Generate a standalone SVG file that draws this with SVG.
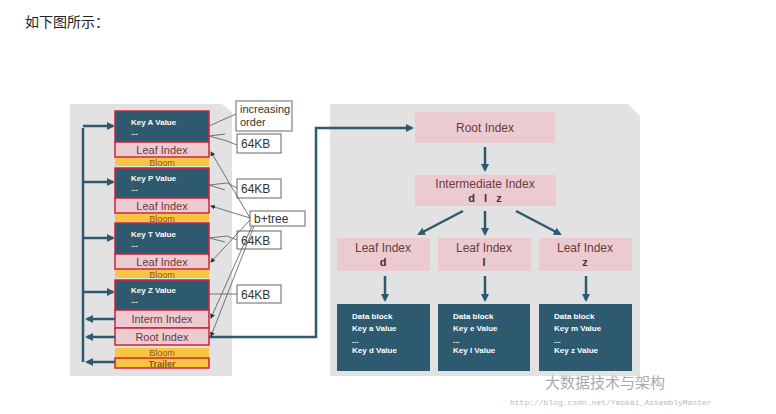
<svg xmlns="http://www.w3.org/2000/svg" width="776" height="414" viewBox="0 0 776 414">
<style>
.key{fill:#2e5a70;stroke:#d0223a;stroke-width:1.5}
.idx{fill:#eccbd0;stroke:#d0223a;stroke-width:1.5}
.bloom{fill:#f7c542}
.pk{fill:#eccbd0}
.db{fill:#2e5a70}
.t{font-family:"Liberation Sans",Arial,sans-serif}
.wk{font-size:8px;font-weight:bold;fill:#fff}
.it{font-size:11px;fill:#6b3a40}
.bt{font-size:9px;fill:#8a5a20}
.co{fill:#fff;stroke:#666;stroke-width:1}
.ct{font-size:12px;fill:#333}
.ln{stroke:#2e5a70;stroke-width:2.5;fill:none}
.th{stroke:#555;stroke-width:0.8;fill:none}
</style>
<defs>
<marker id="ah" markerWidth="8" markerHeight="8" refX="6" refY="4" orient="auto" markerUnits="userSpaceOnUse"><path d="M0,0 L8,4 L0,8 z" fill="#2e5a70"/></marker>
<marker id="sa" markerWidth="5" markerHeight="5" refX="4" refY="2.5" orient="auto" markerUnits="userSpaceOnUse"><path d="M0,0 L5,2.5 L0,5 z" fill="#333"/></marker>
</defs>
<rect width="776" height="414" fill="#fff"/>
<text x="25" y="27" font-family="Noto Sans CJK SC,sans-serif" font-size="14" fill="#222">如下图所示：</text>
<path d="M70,104 L222,104 L232,112 L232,376 L70,376 Z" fill="#e2e2e2"/>
<path d="M330,104 L628,104 L640,116 L640,376 L330,376 Z" fill="#e2e2e2"/>
<g id="left-blocks">
<g id="keyA"><rect class="key" x="115" y="111" width="94" height="31"/><text class="t wk" x="131" y="125">Key A Value</text><text class="t wk" x="131" y="135">...</text></g>
<g id="leaf1"><rect class="idx" x="115" y="142" width="94" height="15"/><text class="t it" x="162" y="153.5" text-anchor="middle">Leaf Index</text></g>
<g id="bloom1"><rect class="bloom" x="115" y="158" width="94" height="8"/><text class="t bt" x="162" y="165.5" text-anchor="middle">Bloom</text></g>
<g id="keyP"><rect class="key" x="115" y="168" width="94" height="30"/><text class="t wk" x="131" y="181">Key P Value</text><text class="t wk" x="131" y="191">...</text></g>
<g id="leaf2"><rect class="idx" x="115" y="198" width="94" height="15"/><text class="t it" x="162" y="209.5" text-anchor="middle">Leaf Index</text></g>
<g id="bloom2"><rect class="bloom" x="115" y="214" width="94" height="8"/><text class="t bt" x="162" y="221.5" text-anchor="middle">Bloom</text></g>
<g id="keyT"><rect class="key" x="115" y="223" width="94" height="31"/><text class="t wk" x="131" y="237">Key T Value</text><text class="t wk" x="131" y="247">...</text></g>
<g id="leaf3"><rect class="idx" x="115" y="254" width="94" height="15"/><text class="t it" x="162" y="265.5" text-anchor="middle">Leaf Index</text></g>
<g id="bloom3"><rect class="bloom" x="115" y="270" width="94" height="8"/><text class="t bt" x="162" y="277.5" text-anchor="middle">Bloom</text></g>
<g id="keyZ"><rect class="key" x="115" y="280" width="94" height="30"/><text class="t wk" x="131" y="293">Key Z Value</text><text class="t wk" x="131" y="303">...</text></g>
<g id="interm"><rect class="idx" x="115" y="310" width="94" height="18"/><text class="t it" x="162" y="323" text-anchor="middle">Interm Index</text></g>
<g id="root"><rect class="idx" x="115" y="328" width="94" height="17"/><text class="t it" x="162" y="341" text-anchor="middle">Root Index</text></g>
<g id="bloom4"><rect class="bloom" x="115" y="348" width="94" height="9"/><text class="t bt" x="162" y="356" text-anchor="middle">Bloom</text></g>
<g id="trailer"><rect class="bloom" x="115" y="358" width="94" height="10" stroke="#d0223a" stroke-width="1.5"/><text class="t bt" x="162" y="366.5" text-anchor="middle" font-weight="bold">Trailer</text></g>
</g>
<g id="callouts">
<g id="inc"><rect class="co" x="236" y="101" width="56" height="30"/><text class="t" font-size="11" fill="#333" x="240" y="113">increasing</text><text class="t" font-size="11" fill="#333" x="240" y="126">order</text></g>
<g id="kb1"><rect class="co" x="237" y="134" width="44" height="19"/><text class="t ct" x="241" y="148">64KB</text></g>
<g id="kb2"><rect class="co" x="237" y="179" width="44" height="19"/><text class="t ct" x="241" y="193">64KB</text></g>
<g id="kb3"><rect class="co" x="237" y="231" width="44" height="18"/><text class="t ct" x="241" y="245">64KB</text></g>
<g id="kb4"><rect class="co" x="237" y="285" width="44" height="18"/><text class="t ct" x="241" y="299">64KB</text></g>
<g id="btree"><rect class="co" x="250" y="211" width="55" height="15"/><text class="t ct" x="254" y="223">b+tree</text></g>
</g>
<g id="left-connectors">
<path class="ln" d="M83,362 L83,128"/>
<path class="ln" d="M83,126 L113,126" marker-end="url(#ah)"/>
<path class="ln" d="M83,182 L113,182" marker-end="url(#ah)"/>
<path class="ln" d="M83,238 L113,238" marker-end="url(#ah)"/>
<path class="ln" d="M83,292 L113,292" marker-end="url(#ah)"/>
<path class="ln" d="M115,319 L87,319" marker-end="url(#ah)"/>
<path class="ln" d="M115,337 L87,337" marker-end="url(#ah)"/>
<path class="ln" d="M115,362 L87,362" marker-end="url(#ah)"/>
<path class="ln" d="M209,337 L316,337 L316,128 L412,128" marker-end="url(#ah)"/>
<path class="th" d="M209,126 L236,114"/>
<path class="th" d="M209,136 L227,141 L237,145 M209,136 L225,134"/>
<path class="th" d="M209,185 L227,183 L237,188 M209,185 L225,190"/>
<path class="th" d="M209,238 L227,236 L237,240 M209,238 L225,242"/>
<path class="th" d="M209,294 L237,294"/>
<path class="th" d="M250,218 L211,152" marker-end="url(#sa)"/>
<path class="th" d="M250,218 L211,206" marker-end="url(#sa)"/>
<path class="th" d="M250,220 L211,262" marker-end="url(#sa)"/>
<path class="th" d="M252,226 L211,318" marker-end="url(#sa)"/>
<path class="th" d="M254,226 L211,336" marker-end="url(#sa)"/>
</g>
<g id="right-nodes">
<g id="rroot"><rect class="pk" x="415" y="112" width="140" height="31"/><text class="t" x="485" y="132" font-size="12" fill="#6b3a40" text-anchor="middle">Root Index</text></g>
<g id="rint"><rect class="pk" x="415" y="175" width="141" height="31"/><text class="t" x="485" y="188" font-size="12" fill="#6b3a40" text-anchor="middle">Intermediate Index</text><text class="t" x="485" y="202" font-size="11" font-weight="bold" fill="#4a2a30" text-anchor="middle" xml:space="preserve">d   l   z</text></g>
<g id="rl1"><rect class="pk" x="337" y="238" width="93" height="33"/><text class="t" x="383" y="252" font-size="12" fill="#6b3a40" text-anchor="middle">Leaf Index</text><text class="t" x="383" y="266" font-size="11" font-weight="bold" fill="#4a2a30" text-anchor="middle">d</text></g>
<g id="rl2"><rect class="pk" x="438" y="238" width="93" height="33"/><text class="t" x="484" y="252" font-size="12" fill="#6b3a40" text-anchor="middle">Leaf Index</text><text class="t" x="484" y="266" font-size="11" font-weight="bold" fill="#4a2a30" text-anchor="middle">l</text></g>
<g id="rl3"><rect class="pk" x="539" y="238" width="93" height="33"/><text class="t" x="585" y="252" font-size="12" fill="#6b3a40" text-anchor="middle">Leaf Index</text><text class="t" x="585" y="266" font-size="11" font-weight="bold" fill="#4a2a30" text-anchor="middle">z</text></g>
<g id="d1"><rect class="db" x="337" y="304" width="93" height="67"/><text class="t wk" x="352" y="319" font-size="9">Data block</text><text class="t wk" x="352" y="331">Key a Value</text><text class="t wk" x="352" y="343">...</text><text class="t wk" x="352" y="353">Key d Value</text></g>
<g id="d2"><rect class="db" x="438" y="304" width="92" height="67"/><text class="t wk" x="453" y="319" font-size="9">Data block</text><text class="t wk" x="453" y="331">Key e Value</text><text class="t wk" x="453" y="343">...</text><text class="t wk" x="453" y="353">Key l Value</text></g>
<g id="d3"><rect class="db" x="539" y="304" width="93" height="67"/><text class="t wk" x="554" y="319" font-size="9">Data block</text><text class="t wk" x="554" y="331">Key m Value</text><text class="t wk" x="554" y="343">...</text><text class="t wk" x="554" y="353">Key z Value</text></g>
</g>
<g id="right-connectors">
<path class="ln" d="M485,147 L485,170" marker-end="url(#ah)"/>
<path class="ln" d="M463,211 L419,234" marker-end="url(#ah)"/>
<path class="ln" d="M485,211 L485,234" marker-end="url(#ah)"/>
<path class="ln" d="M516,211 L560,234" marker-end="url(#ah)"/>
<path class="ln" d="M385,276 L385,300" marker-end="url(#ah)"/>
<path class="ln" d="M485,276 L485,300" marker-end="url(#ah)"/>
<path class="ln" d="M586,276 L586,300" marker-end="url(#ah)"/>
</g>
<text x="545" y="388" font-family="Noto Sans CJK SC,sans-serif" font-size="15" fill="#aaa">大数据技术与架构</text>
<text x="510" y="405" font-family="Liberation Mono,monospace" font-size="8" fill="#bbb">http://blog.csdn.net/Yaokai_AssemblyMaster</text>
</svg>
